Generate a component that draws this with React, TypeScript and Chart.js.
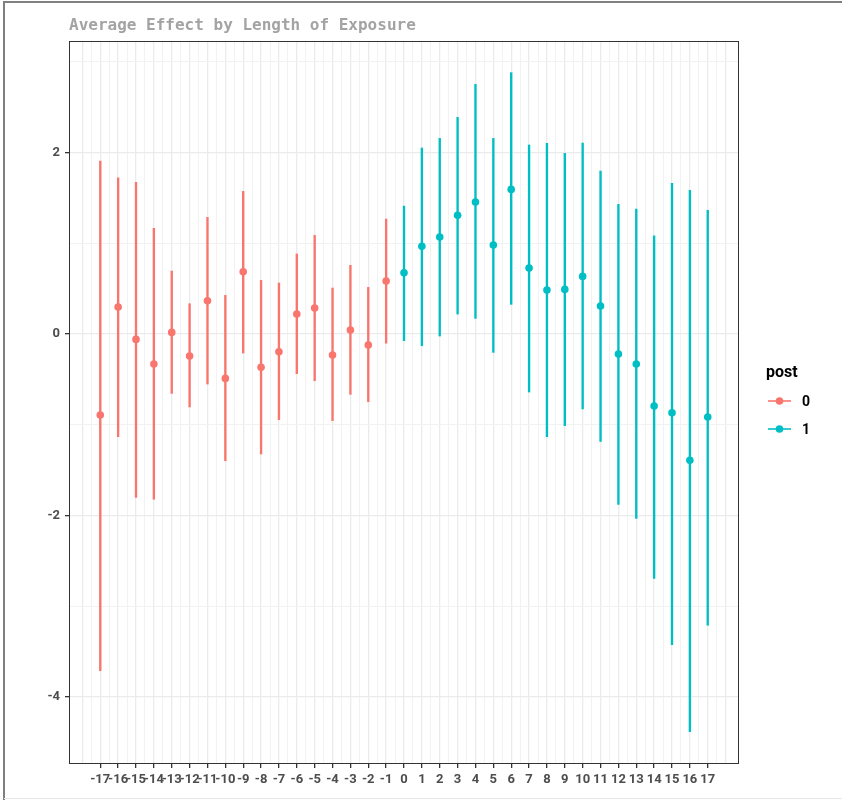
import React, { useEffect, useRef } from "react";
import { Chart, registerables } from "chart.js";

Chart.register(...registerables);

const periods = [-17, -16, -15, -14, -13, -12, -11, -10, -9, -8, -7, -6, -5, -4, -3, -2, -1, 0, 1, 2, 3, 4, 5, 6, 7, 8, 9, 10, 11, 12, 13, 14, 15, 16, 17];
const estimates = [-0.893, 0.298, -0.059, -0.331, 0.018, -0.242, 0.367, -0.489, 0.687, -0.367, -0.195, 0.22, 0.287, -0.231, 0.044, -0.121, 0.584, 0.676, 0.966, 1.069, 1.308, 1.455, 0.981, 1.594, 0.727, 0.485, 0.492, 0.635, 0.309, -0.22, -0.331, -0.793, -0.867, -1.392, -0.915];
const lower = [-3.71, -1.131, -1.8, -1.82, -0.654, -0.804, -0.551, -1.396, -0.209, -1.322, -0.944, -0.437, -0.514, -0.955, -0.665, -0.746, -0.101, -0.073, -0.128, -0.022, 0.22, 0.172, -0.202, 0.327, -0.639, -1.131, -1.01, -0.826, -1.183, -1.877, -2.031, -2.692, -3.424, -4.382, -3.207];
const upper = [1.906, 1.722, 1.671, 1.164, 0.694, 0.334, 1.286, 0.426, 1.572, 0.591, 0.562, 0.882, 1.087, 0.507, 0.757, 0.514, 1.267, 1.41, 2.05, 2.156, 2.388, 2.751, 2.156, 2.88, 2.083, 2.101, 1.991, 2.105, 1.796, 1.429, 1.377, 1.083, 1.66, 1.583, 1.363];
const postGroups = ["0", "1"];
const groupColors = ["#F8766D", "#00BFC4"];
const yTickValues = [-4, -3, -2, -1, 0, 1, 2, 3];
const chartTitle = "Average Effect by Length of Exposure";
const legendTitle = "post";

const tickFont = { family: "'Liberation Sans Narrow', 'Roboto', sans-serif", size: 13, weight: "bold" as const };

export default function App() {
  const ref = useRef<HTMLCanvasElement>(null);
  useEffect(() => {
    document.body.style.margin = "0";
    const groupOf = (p: number) => (p >= 0 ? 1 : 0);
    const bars = postGroups.map((g, gi) => ({
      type: "bar" as const,
      label: g,
      data: periods
        .map((p, i) => ({ x: p, y: [lower[i], upper[i]] }))
        .filter((d) => groupOf(d.x) === gi),
      backgroundColor: groupColors[gi],
      borderWidth: 0,
      barThickness: 1.7,
      grouped: false,
      order: 2,
    }));
    const points = postGroups.map((g, gi) => ({
      type: "line" as const,
      label: g,
      data: periods.map((p, i) => ({ x: p, y: estimates[i] })).filter((d) => groupOf(d.x) === gi),
      showLine: false,
      pointRadius: 3.8,
      pointBorderWidth: 0,
      pointBackgroundColor: groupColors[gi],
      borderColor: groupColors[gi],
      order: 1,
    }));

    const decor = {
      id: "decor",
      afterDraw(chart: any) {
        const { ctx, chartArea: a } = chart;
        ctx.save();
        ctx.strokeStyle = "#333333";
        ctx.lineWidth = 1;
        ctx.strokeRect(a.left + 0.5, a.top + 0.5, a.right - a.left - 1, a.bottom - a.top - 1);
        ctx.strokeStyle = "#808080";
        ctx.lineWidth = 2;
        ctx.beginPath();
        ctx.moveTo(4, 800);
        ctx.lineTo(4, 2);
        ctx.lineTo(842, 2);
        ctx.stroke();
        ctx.strokeStyle = "#e6e6e6";
        ctx.lineWidth = 1;
        ctx.beginPath();
        ctx.moveTo(4, 798.5);
        ctx.lineTo(842, 798.5);
        ctx.stroke();
        ctx.fillStyle = "#a3a3a3";
        ctx.font = "bold 16px 'DejaVu Sans Mono', monospace";
        ctx.textBaseline = "alphabetic";
        ctx.textAlign = "left";
        ctx.fillText(chartTitle, a.left, 30);
        ctx.fillStyle = "#000000";
        ctx.font = "bold 16px 'Liberation Sans Narrow', 'Roboto', sans-serif";
        ctx.textBaseline = "middle";
        ctx.fillText(legendTitle, 766, 373);
        postGroups.forEach((g, gi) => {
          const y = 401 + gi * 28;
          ctx.strokeStyle = groupColors[gi];
          ctx.lineWidth = 1.6;
          ctx.beginPath();
          ctx.moveTo(768, y);
          ctx.lineTo(791, y);
          ctx.stroke();
          ctx.fillStyle = groupColors[gi];
          ctx.beginPath();
          ctx.arc(779.5, y, 3.8, 0, Math.PI * 2);
          ctx.fill();
          ctx.fillStyle = "#000000";
          ctx.font = "bold 14px 'Liberation Sans Narrow', 'Roboto', sans-serif";
          ctx.fillText(g, 802, y + 1);
        });
        ctx.restore();
      },
    };

    const isInt = (v: number) => Math.abs(v - Math.round(v)) < 1e-9;
    const tv = (c: any) => (c && c.tick ? c.tick.value : 0);

    const chart = new Chart(ref.current!, {
      type: "scatter",
      data: { datasets: [...points, ...bars] as any },
      options: {
        animation: false,
        responsive: true,
        maintainAspectRatio: false,
        layout: { padding: { top: 41, right: 103, left: 0, bottom: 0 } },
        plugins: { legend: { display: false }, tooltip: { enabled: false }, title: { display: false } },
        scales: {
          x: {
            type: "linear",
            position: "bottom",
            offset: false,
            min: -18.75,
            max: 18.75,
            afterBuildTicks: (scale: any) => {
              const t = [];
              for (let v = -36; v <= 36; v++) t.push({ value: v / 2 });
              scale.ticks = t;
            },
            afterFit: (scale: any) => {
              scale.height = 36;
            },
            ticks: {
              autoSkip: false,
              maxRotation: 0,
              minRotation: 0,
              padding: 4,
              color: "#4d4d4d",
              font: tickFont,
              callback: (v: any) => (isInt(v) && Math.abs(v) <= 17 ? String(v) : ""),
            },
            grid: {
              offset: false,
              color: (c: any) => (isInt(tv(c)) ? "#ebebeb" : "#f2f2f2"),
              lineWidth: (c: any) => (isInt(tv(c)) ? 1.3 : 1),
              tickColor: (c: any) => (isInt(tv(c)) && Math.abs(tv(c)) <= 17 ? "#333333" : "rgba(0,0,0,0)"),
              tickLength: 4,
              drawTicks: true,
            },
            border: { display: false },
          },
          y: {
            type: "linear",
            min: -4.738,
            max: 3.229,
            afterBuildTicks: (scale: any) => {
              scale.ticks = yTickValues.map((v) => ({ value: v }));
            },
            afterFit: (scale: any) => {
              scale.width = 69;
            },
            ticks: {
              padding: 5,
              color: "#4d4d4d",
              font: tickFont,
              callback: (v: any) => (v % 2 === 0 ? String(v) : ""),
            },
            grid: {
              color: (c: any) => (tv(c) % 2 === 0 ? "#ebebeb" : "#f2f2f2"),
              lineWidth: (c: any) => (tv(c) % 2 === 0 ? 1.3 : 1),
              tickColor: (c: any) => (tv(c) % 2 === 0 ? "#333333" : "rgba(0,0,0,0)"),
              tickLength: 4,
            },
            border: { display: false },
          },
        },
      },
      plugins: [decor],
    });
    return () => chart.destroy();
  }, []);
  return (
    <div style={{ position: "relative", width: 842, height: 800, background: "#ffffff" }}>
      <canvas ref={ref} />
    </div>
  );
}
